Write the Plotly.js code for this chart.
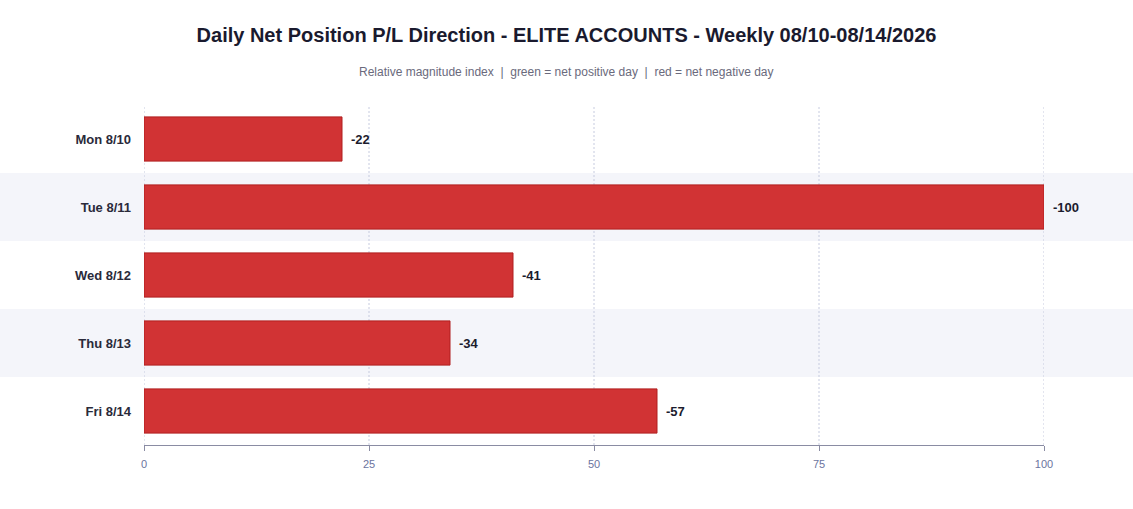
<!DOCTYPE html>
<html>
<head>
<meta charset="utf-8">
<script src="https://cdn.plot.ly/plotly-3.0.1.min.js"></script>
<style>
  html, body { margin: 0; padding: 0; background: #ffffff; }
  #chart { width: 1133px; height: 509px; }
</style>
</head>
<body>
<div id="chart"></div>
<script>
const days = ["Mon 8/10", "Tue 8/11", "Wed 8/12", "Thu 8/13", "Fri 8/14"];
const netIndex = [-22, -100, -41, -34, -57];
const xTicks = [0, 25, 50, 75, 100];

const positiveColor = "#2e9e4f";
const negativeColor = "#d13334";
const fontFamily = "Arial, 'Liberation Sans', sans-serif";

const barColors = netIndex.map((v) => (v >= 0 ? positiveColor : negativeColor));
const barLines = netIndex.map((v) => (v >= 0 ? "#1f7a3a" : "#b01e1e"));

// shade every other row, like a striped table
const bandShapes = days
  .map((day, i) => i)
  .filter((i) => i % 2 === 1)
  .map((i) => ({
    type: "rect",
    layer: "below",
    xref: "paper",
    yref: "y",
    x0: -0.3,
    x1: 1.3,
    y0: i - 0.5,
    y1: i + 0.5,
    fillcolor: "#f4f5fa",
    line: { width: 0 },
  }));

// plotly drops the grid lines at the range ends, so draw them all as shapes
const gridShapes = xTicks.map((t) => ({
  type: "line",
  layer: "below",
  xref: "x",
  yref: "paper",
  x0: t,
  x1: t,
  y0: 0,
  y1: 1,
  line: { color: "#c6cbdf", width: 1, dash: "2px,2px" },
}));

// value labels sit a little past the end of each bar
const valueLabels = netIndex.map((v, i) => ({
  x: Math.abs(v),
  y: days[i],
  xref: "x",
  yref: "y",
  text: "<b>" + v + "</b>",
  showarrow: false,
  xanchor: "left",
  yanchor: "middle",
  xshift: 7,
  font: { family: fontFamily, size: 13, color: "#1c1c2e" },
}));

const trace = {
  type: "bar",
  orientation: "h",
  y: days,
  x: netIndex.map((v) => Math.abs(v)),
  width: 0.65,
  marker: {
    color: barColors,
    line: { color: barLines, width: 1 },
  },
  cliponaxis: false,
  hoverinfo: "skip",
};

const layout = {
  width: 1133,
  height: 509,
  margin: { l: 144, r: 89, t: 105, b: 64 },
  paper_bgcolor: "#ffffff",
  plot_bgcolor: "rgba(0,0,0,0)",
  showlegend: false,
  font: { family: fontFamily, color: "#1c1c2e" },
  title: {
    text: "<b>Daily Net Position P/L Direction - ELITE ACCOUNTS - Weekly 08/10-08/14/2026</b>",
    x: 0.5,
    xref: "container",
    y: 0.931,
    yref: "container",
    yanchor: "middle",
    font: { family: fontFamily, size: 20, color: "#1a1a2e" },
  },
  annotations: [
    {
      text: "Relative magnitude index  |  green = net positive day  |  red = net negative day",
      xref: "paper",
      yref: "paper",
      x: (566.5 - 144) / 900,
      y: 1 + (105 - 72) / 340,
      xanchor: "center",
      yanchor: "middle",
      showarrow: false,
      font: { family: fontFamily, size: 12, color: "#6a6a7c" },
    },
  ].concat(valueLabels),
  shapes: bandShapes.concat(gridShapes),
  xaxis: {
    range: [0, 100],
    tickvals: xTicks,
    ticktext: xTicks.map(String),
    showgrid: false,
    zeroline: false,
    showline: true,
    linecolor: "#8a8ca3",
    linewidth: 1,
    ticks: "outside",
    ticklen: 5,
    tickcolor: "#8a8ca3",
    ticklabelstandoff: 4,
    tickfont: { family: fontFamily, size: 11, color: "#6b74a0" },
    fixedrange: true,
  },
  yaxis: {
    type: "category",
    autorange: "reversed",
    showgrid: false,
    zeroline: false,
    showline: false,
    ticks: "",
    ticklabelstandoff: 12,
    tickfont: { family: fontFamily, size: 13, color: "#2a2a3a", weight: "bold" },
    fixedrange: true,
  },
};

Plotly.newPlot("chart", [trace], layout, { displayModeBar: false, staticPlot: true });
</script>
</body>
</html>
